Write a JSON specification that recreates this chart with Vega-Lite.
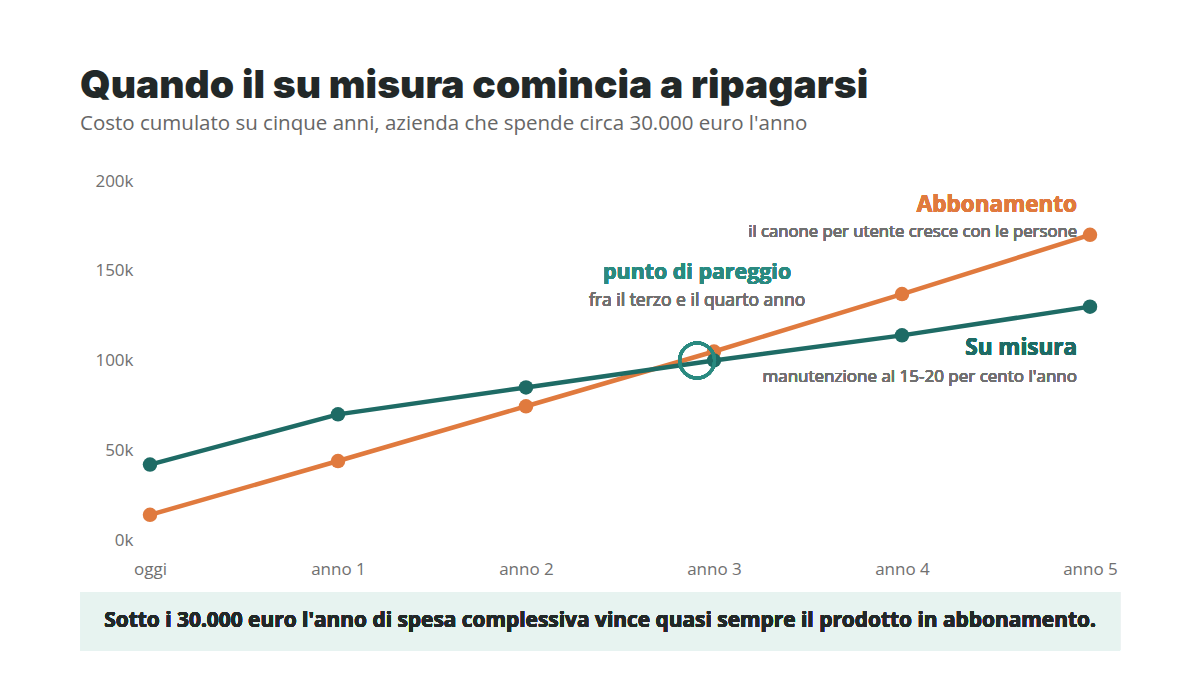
{
  "$schema": "https://vega.github.io/schema/vega-lite/v6.json",
  "width": 940,
  "height": 359,
  "autosize": {"type": "none"},
  "padding": {"left": 150, "top": 181, "right": 110, "bottom": 146},
  "background": "#ffffff",
  "config": {
    "view": {"stroke": null},
    "font": "Open Sans"
  },
  "title": {
    "text": "Quando il su misura comincia a ripagarsi",
    "subtitle": "Costo cumulato su cinque anni, azienda che spende circa 30.000 euro l'anno",
    "anchor": "start",
    "frame": "group",
    "dx": -70,
    "offset": 38,
    "font": "Inter",
    "fontSize": 39,
    "fontWeight": 900,
    "color": "#222828",
    "subtitleFont": "Open Sans",
    "subtitleFontSize": 20.5,
    "subtitleFontWeight": "normal",
    "subtitleColor": "#666666",
    "subtitlePadding": 8
  },
  "data": {
    "values": [
      {"anno": 0, "piano": "Abbonamento", "costo": 14000},
      {"anno": 1, "piano": "Abbonamento", "costo": 44000},
      {"anno": 2, "piano": "Abbonamento", "costo": 74500},
      {"anno": 3, "piano": "Abbonamento", "costo": 105000},
      {"anno": 4, "piano": "Abbonamento", "costo": 137000},
      {"anno": 5, "piano": "Abbonamento", "costo": 170000},
      {"anno": 0, "piano": "Su misura", "costo": 42000},
      {"anno": 1, "piano": "Su misura", "costo": 70000},
      {"anno": 2, "piano": "Su misura", "costo": 85000},
      {"anno": 3, "piano": "Su misura", "costo": 100000},
      {"anno": 4, "piano": "Su misura", "costo": 114000},
      {"anno": 5, "piano": "Su misura", "costo": 130000}
    ]
  },
  "layer": [
    {
      "mark": {"type": "rect", "color": "#e7f3f0", "clip": false},
      "encoding": {
        "x": {"datum": -0.372, "type": "quantitative"},
        "x2": {"datum": 5.16},
        "y": {"datum": -28900, "type": "quantitative"},
        "y2": {"datum": -61700}
      }
    },
    {
      "mark": {"type": "text", "font": "Open Sans", "fontSize": 20.9, "fontWeight": "bold", "color": "#222828", "align": "center", "baseline": "middle"},
      "encoding": {
        "x": {"datum": 2.394, "type": "quantitative"},
        "y": {"datum": -45300, "type": "quantitative"},
        "text": {"value": "Sotto i 30.000 euro l'anno di spesa complessiva vince quasi sempre il prodotto in abbonamento."}
      }
    },
    {
      "mark": {"type": "line", "strokeWidth": 4.5},
      "encoding": {
        "x": {
          "field": "anno", "type": "quantitative",
          "scale": {"domain": [0, 5], "nice": false, "zero": false},
          "axis": {
            "values": [0, 1, 2, 3, 4, 5],
            "labelExpr": "datum.value == 0 ? 'oggi' : 'anno ' + datum.value",
            "title": null, "grid": false, "domain": false, "ticks": false,
            "labelPadding": 21, "labelFontSize": 17, "labelColor": "#707070",
            "labelFont": "Open Sans", "labelFlush": false
          }
        },
        "y": {
          "field": "costo", "type": "quantitative",
          "scale": {"domain": [0, 200000], "nice": false},
          "axis": {
            "values": [0, 50000, 100000, 150000, 200000],
            "labelExpr": "(datum.value / 1000) + 'k'",
            "title": null, "domain": false, "ticks": false,
            "gridColor": "#e3e3e3", "gridWidth": 1,
            "labelPadding": 17, "labelFontSize": 17, "labelColor": "#707070",
            "labelFont": "Open Sans"
          }
        },
        "color": {
          "field": "piano", "type": "nominal",
          "scale": {"domain": ["Abbonamento", "Su misura"], "range": ["#e07a3e", "#1e6b65"]},
          "legend": null
        }
      }
    },
    {
      "mark": {"type": "point", "filled": true, "opacity": 1, "size": 210},
      "encoding": {
        "x": {"field": "anno", "type": "quantitative"},
        "y": {"field": "costo", "type": "quantitative"},
        "color": {"field": "piano", "type": "nominal"}
      }
    },
    {
      "mark": {"type": "point", "filled": false, "opacity": 1, "size": 1225, "strokeWidth": 3, "color": "#2a8a80", "clip": false},
      "encoding": {
        "x": {"datum": 2.91, "type": "quantitative"},
        "y": {"datum": 100000, "type": "quantitative"}
      }
    },
    {
      "mark": {"type": "text", "font": "Open Sans", "fontSize": 22.5, "fontWeight": "bold", "color": "#e07a3e", "align": "right", "baseline": "alphabetic"},
      "encoding": {
        "x": {"datum": 4.931, "type": "quantitative"},
        "y": {"datum": 182800, "type": "quantitative"},
        "text": {"value": "Abbonamento"}
      }
    },
    {
      "mark": {"type": "text", "font": "Open Sans", "fontSize": 16.7, "fontWeight": "normal", "color": "#707070", "align": "right", "baseline": "alphabetic"},
      "encoding": {
        "x": {"datum": 4.931, "type": "quantitative"},
        "y": {"datum": 168700, "type": "quantitative"},
        "text": {"value": "il canone per utente cresce con le persone"}
      }
    },
    {
      "mark": {"type": "text", "font": "Open Sans", "fontSize": 21.4, "fontWeight": "bold", "color": "#2a8a80", "align": "center", "baseline": "alphabetic"},
      "encoding": {
        "x": {"datum": 2.91, "type": "quantitative"},
        "y": {"datum": 145200, "type": "quantitative"},
        "text": {"value": "punto di pareggio"}
      }
    },
    {
      "mark": {"type": "text", "font": "Open Sans", "fontSize": 17.5, "fontWeight": "normal", "color": "#707070", "align": "center", "baseline": "alphabetic"},
      "encoding": {
        "x": {"datum": 2.91, "type": "quantitative"},
        "y": {"datum": 130200, "type": "quantitative"},
        "text": {"value": "fra il terzo e il quarto anno"}
      }
    },
    {
      "mark": {"type": "text", "font": "Open Sans", "fontSize": 22.5, "fontWeight": "bold", "color": "#1e6b65", "align": "right", "baseline": "alphabetic"},
      "encoding": {
        "x": {"datum": 4.931, "type": "quantitative"},
        "y": {"datum": 102800, "type": "quantitative"},
        "text": {"value": "Su misura"}
      }
    },
    {
      "mark": {"type": "text", "font": "Open Sans", "fontSize": 17, "fontWeight": "normal", "color": "#707070", "align": "right", "baseline": "alphabetic"},
      "encoding": {
        "x": {"datum": 4.931, "type": "quantitative"},
        "y": {"datum": 88000, "type": "quantitative"},
        "text": {"value": "manutenzione al 15-20 per cento l'anno"}
      }
    }
  ]
}
